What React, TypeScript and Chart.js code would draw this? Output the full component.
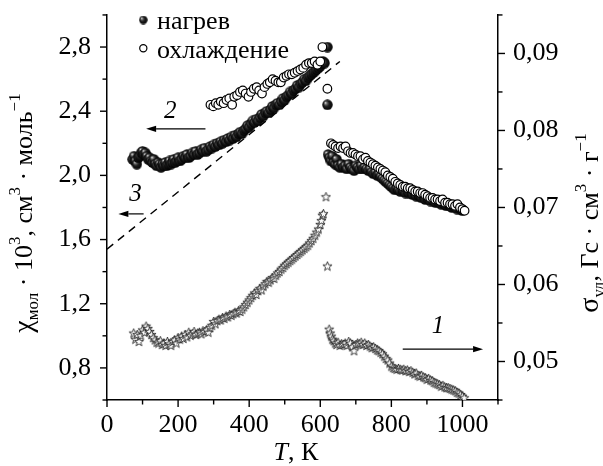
import React, { useEffect, useRef } from 'react';
import { Chart, registerables } from 'chart.js';

Chart.register(...registerables);

// ---------- data ----------
const heatingT = [
  72, 76, 80, 84, 88, 92, 96, 100, 104, 108, 112, 116, 120, 124, 128, 132, 136, 140, 144, 148,
  152, 156, 160, 164, 168, 172, 176, 180, 184, 188, 192, 196, 200, 205, 210, 215, 220, 225, 230, 235,
  240, 245, 250, 255, 260, 265, 270, 275, 280, 285, 290, 295, 300, 305, 310, 315, 320, 325, 330, 335,
  340, 345, 350, 355, 360, 365, 370, 375, 380, 385, 390, 395, 400, 405, 410, 415, 420, 425, 430, 435,
  440, 445, 450, 455, 460, 465, 470, 475, 480, 485, 490, 495, 500, 505, 510, 515, 520, 525, 530, 535,
  540, 545, 550, 555, 560, 565, 570, 575, 580, 585, 590, 595, 600, 604, 608, 612, 620, 620,
  622, 626, 630, 634, 638, 642, 646, 650, 655, 660, 665, 670, 675, 680, 685, 690, 695, 700, 705, 710,
  715, 720, 725, 730, 735, 740, 745, 750, 755, 760, 765, 770, 775, 780, 785, 790, 795, 800, 805, 810,
  815, 820, 825, 830, 835, 840, 845, 850, 855, 860, 865, 870, 875, 880, 885, 890, 895, 900, 905, 910,
  915, 920, 925, 930, 935, 940, 945, 950, 955, 960, 965, 970, 975, 980, 985, 990, 995, 1000,
];
const heatingChi = [
  2.10, 2.12, 2.09, 2.07, 2.11, 2.12, 2.14, 2.15, 2.13, 2.14, 2.12, 2.10, 2.11, 2.09, 2.08, 2.10, 2.07, 2.06, 2.08, 2.07,
  2.05, 2.07, 2.06, 2.08, 2.06, 2.07, 2.09, 2.07, 2.08, 2.10, 2.08, 2.09, 2.11, 2.09, 2.10, 2.12, 2.11, 2.13, 2.11, 2.12,
  2.14, 2.13, 2.15, 2.13, 2.14, 2.16, 2.15, 2.17, 2.15, 2.16, 2.18, 2.17, 2.19, 2.18, 2.20, 2.19, 2.21, 2.20, 2.22, 2.21,
  2.23, 2.22, 2.24, 2.23, 2.25, 2.24, 2.26, 2.27, 2.26, 2.28, 2.29, 2.31, 2.30, 2.32, 2.34, 2.33, 2.35, 2.34, 2.36, 2.38,
  2.37, 2.39, 2.40, 2.39, 2.41, 2.43, 2.42, 2.44, 2.45, 2.44, 2.46, 2.48, 2.47, 2.49, 2.50, 2.52, 2.51, 2.53, 2.54, 2.56,
  2.55, 2.57, 2.58, 2.60, 2.59, 2.61, 2.62, 2.63, 2.64, 2.65, 2.66, 2.67, 2.68, 2.70, 2.71, 2.70, 2.80, 2.44,
  2.13, 2.11, 2.09, 2.12, 2.08, 2.07, 2.10, 2.06, 2.05, 2.07, 2.05, 2.06, 2.04, 2.07, 2.05, 2.04, 2.03, 2.06, 2.05, 2.04,
  2.06, 2.04, 2.05, 2.04, 2.03, 2.04, 2.02, 2.01, 2.02, 2.00, 2.01, 1.99, 1.98, 1.97, 1.96, 1.95, 1.94, 1.93, 1.92, 1.91,
  1.92, 1.91, 1.90, 1.91, 1.90, 1.89, 1.90, 1.89, 1.90, 1.88, 1.89, 1.87, 1.88, 1.87, 1.86, 1.87, 1.85, 1.86, 1.85, 1.84,
  1.85, 1.84, 1.83, 1.84, 1.83, 1.82, 1.83, 1.82, 1.81, 1.82, 1.81, 1.80, 1.81, 1.80, 1.79, 1.80, 1.79, 1.78,
];

const coolingT = [
  291, 299, 306, 313, 320, 328, 336, 344, 352, 358, 366, 374, 382, 390, 398, 405, 413, 421, 428, 436,
  443, 451, 458, 466, 474, 482, 489, 497, 505, 512, 520, 528, 536, 544, 552, 560, 568, 576, 584, 592,
  600, 606, 620,
  630, 636, 643, 650, 657, 664, 671, 678, 685, 692, 699, 706, 713, 720, 727, 734, 741, 748, 755, 762,
  769, 776, 783, 790, 797, 804, 811, 818, 825, 832, 839, 846, 853, 860, 867, 874, 881, 888, 895, 902,
  909, 916, 923, 930, 937, 944, 951, 958, 965, 972, 979, 986, 993, 1000, 1006,
];
const coolingChi = [
  2.44, 2.43, 2.45, 2.44, 2.46, 2.45, 2.47, 2.48, 2.44, 2.49, 2.50, 2.52, 2.53, 2.51, 2.49, 2.52, 2.54, 2.55, 2.53, 2.51,
  2.55, 2.57, 2.58, 2.60, 2.59, 2.58, 2.58, 2.61, 2.62, 2.63, 2.63, 2.64, 2.65, 2.66, 2.67, 2.69, 2.70, 2.70, 2.71, 2.69,
  2.71, 2.80, 2.54,
  2.20, 2.19, 2.18, 2.17, 2.18, 2.17, 2.18, 2.15, 2.14, 2.14, 2.13, 2.12, 2.12, 2.10, 2.11, 2.09, 2.08, 2.07, 2.06, 2.05,
  2.04, 2.03, 2.02, 2.00, 1.99, 1.98, 1.96, 1.95, 1.94, 1.93, 1.93, 1.92, 1.92, 1.91, 1.90, 1.90, 1.89, 1.89, 1.88, 1.87,
  1.86, 1.86, 1.85, 1.85, 1.84, 1.85, 1.83, 1.83, 1.82, 1.82, 1.81, 1.82, 1.80, 1.79, 1.78,
];

const sigmaT = [
  75, 80, 85, 90, 95, 100, 105, 110, 115, 120, 125, 130, 135, 140, 145, 150, 155, 160, 165, 170,
  175, 180, 185, 190, 195, 200, 205, 210, 215, 220, 225, 230, 235, 240, 245, 250, 255, 260, 265, 270,
  275, 280, 285, 290, 295, 300, 305, 310, 315, 320, 325, 330, 335, 340, 345, 350, 355, 360, 365, 370,
  375, 380, 385, 390, 395, 400, 405, 410, 415, 420, 425, 430, 435, 440, 445, 450, 455, 460, 465, 470,
  475, 480, 485, 490, 495, 500, 505, 510, 515, 520, 525, 530, 535, 540, 545, 550, 555, 560, 565, 570,
  575, 580, 585, 590, 595, 600, 603, 606, 609, 616, 620,
  625, 628, 631, 634, 638, 642, 646, 650, 655, 660, 665, 670, 675, 680, 685, 690, 695, 700, 705, 710,
  715, 720, 725, 730, 735, 740, 745, 750, 755, 760, 765, 770, 775, 780, 785, 790, 795, 800, 805, 810,
  815, 820, 825, 830, 835, 840, 845, 850, 855, 860, 865, 870, 875, 880, 885, 890, 895, 900, 905, 910,
  915, 920, 925, 930, 935, 940, 945, 950, 955, 960, 965, 970, 975, 980, 985, 990, 995, 1000, 1005,
];
const sigmaVal = [
  0.0537, 0.0529, 0.0535, 0.0526, 0.0534, 0.0541, 0.0538, 0.0546, 0.0543, 0.0539, 0.0535, 0.0531, 0.0528, 0.0525, 0.0524, 0.0527, 0.0522, 0.0524, 0.0521, 0.0526,
  0.0523, 0.0521, 0.0526, 0.0528, 0.0524, 0.0531, 0.0529, 0.0533, 0.0530, 0.0535, 0.0532, 0.0538, 0.0534, 0.0536, 0.0539, 0.0535, 0.0537, 0.0538, 0.0536, 0.0540,
  0.0539, 0.0541, 0.0538, 0.0544, 0.0547, 0.0552, 0.0549, 0.0553, 0.0555, 0.0554, 0.0557, 0.0556, 0.0559, 0.0558, 0.0561, 0.0560, 0.0562, 0.0564, 0.0563, 0.0566,
  0.0565, 0.0568, 0.0571, 0.0574, 0.0577, 0.0580, 0.0583, 0.0586, 0.0589, 0.0587, 0.0592, 0.0595, 0.0593, 0.0598, 0.0601, 0.0604, 0.0603, 0.0606, 0.0609, 0.0608,
  0.0612, 0.0615, 0.0617, 0.0620, 0.0622, 0.0625, 0.0627, 0.0629, 0.0631, 0.0633, 0.0635, 0.0637, 0.0639, 0.0641, 0.0643, 0.0645, 0.0647, 0.0649, 0.0651, 0.0654,
  0.0657, 0.0660, 0.0664, 0.0668, 0.0672, 0.0678, 0.0683, 0.0690, 0.0692, 0.0714, 0.0624,
  0.0542, 0.0537, 0.0533, 0.0529, 0.0527, 0.0524, 0.0522, 0.0525, 0.0521, 0.0523, 0.0522, 0.0524, 0.0521, 0.0526, 0.0524, 0.0519, 0.0514, 0.0522, 0.0524, 0.0523,
  0.0525, 0.0522, 0.0524, 0.0521, 0.0522, 0.0520, 0.0518, 0.0519, 0.0517, 0.0515, 0.0514, 0.0512, 0.0510, 0.0507, 0.0504, 0.0502, 0.0498, 0.0494, 0.0492, 0.0491,
  0.0490, 0.0491, 0.0490, 0.0489, 0.0490, 0.0488, 0.0489, 0.0487, 0.0488, 0.0486, 0.0484, 0.0485, 0.0482, 0.0481, 0.0482, 0.0480, 0.0479, 0.0477, 0.0478, 0.0476,
  0.0475, 0.0473, 0.0472, 0.0471, 0.0470, 0.0468, 0.0469, 0.0467, 0.0466, 0.0466, 0.0465, 0.0464, 0.0463, 0.0462, 0.0460, 0.0459, 0.0457, 0.0455, 0.0453,
];

// dashed linear fit (curve 3)
const fitT = [0, 655];
const fitChi = [1.54, 2.71];

const legendLabels = ['нагрев', 'охлаждение'];

// annotation arrows & labels in data units
const arrowDefs = [
  { axis: 'y', x0: 277, x1: 110, v: 2.29, label: '2', lx: 178, lv: 2.40 },
  { axis: 'y', x0: 103, x1: 32, v: 1.76, label: '3', lx: 80, lv: 1.88 },
  { axis: 'y2', x0: 832, x1: 1058, v: 0.0516, label: '1', lx: 931, lv: 0.0546 },
];

const SERIF = '"Liberation Serif"';

// ---------- point images ----------
function makeSphere(d: number): HTMLCanvasElement {
  const c = document.createElement('canvas');
  c.width = d; c.height = d;
  const g = c.getContext('2d')!;
  const r = d / 2;
  const grad = g.createRadialGradient(r - r * 0.4, r - r * 0.4, 0.2, r, r, r);
  grad.addColorStop(0, '#e8e8e8');
  grad.addColorStop(0.22, '#6a6a6a');
  grad.addColorStop(0.5, '#1e1e1e');
  grad.addColorStop(1, '#000000');
  g.fillStyle = grad;
  g.beginPath();
  g.arc(r, r, r - 0.3, 0, Math.PI * 2);
  g.fill();
  return c;
}

function makeStar(d: number): HTMLCanvasElement {
  const c = document.createElement('canvas');
  c.width = d; c.height = d;
  const g = c.getContext('2d')!;
  const cx = d / 2, cy = d / 2 + 0.4;
  const R = d / 2 - 0.7, rr = R * 0.42;
  g.beginPath();
  for (let i = 0; i < 10; i++) {
    const ang = -Math.PI / 2 + (i * Math.PI) / 5;
    const rad = i % 2 === 0 ? R : rr;
    const px = cx + rad * Math.cos(ang), py = cy + rad * Math.sin(ang);
    if (i === 0) g.moveTo(px, py); else g.lineTo(px, py);
  }
  g.closePath();
  g.fillStyle = '#fff';
  g.fill();
  g.strokeStyle = '#111';
  g.lineWidth = 0.8;
  g.stroke();
  return c;
}

type Seg = { t: string; size: number; dy: number; italic?: boolean };

function drawRich(ctx: CanvasRenderingContext2D, x: number, y: number, segs: Seg[], rotate: boolean) {
  ctx.save();
  ctx.translate(x, y);
  if (rotate) ctx.rotate(-Math.PI / 2);
  ctx.textBaseline = 'alphabetic';
  ctx.textAlign = 'left';
  ctx.fillStyle = '#000';
  const widths = segs.map((s) => {
    ctx.font = `${s.italic ? 'italic ' : ''}${s.size}px ${SERIF}`;
    return ctx.measureText(s.t).width;
  });
  const total = widths.reduce((a, b) => a + b, 0);
  let cx = -total / 2;
  segs.forEach((s, i) => {
    ctx.font = `${s.italic ? 'italic ' : ''}${s.size}px ${SERIF}`;
    ctx.fillText(s.t, cx, s.dy);
    cx += widths[i];
  });
  ctx.restore();
}

export default function App() {
  const ref = useRef<HTMLCanvasElement | null>(null);

  useEffect(() => {
    if (!ref.current) return;
    const sphere = makeSphere(11);
    const sphereSmall = makeSphere(9);
    const star = makeStar(11);

    const heatingData = heatingT.map((t, i) => ({ x: t, y: heatingChi[i] }));
    const coolingData = coolingT.map((t, i) => ({ x: t, y: coolingChi[i] }));
    const sigmaData = sigmaT.map((t, i) => ({ x: t, y: sigmaVal[i] }));
    const fitData = fitT.map((t, i) => ({ x: t, y: fitChi[i] }));

    const fmtX = (v: number) => (Math.round(v) % 200 === 0 ? String(Math.round(v)) : '');
    const fmtY = (v: number) => (Math.round(v * 10) % 4 === 0 ? v.toFixed(1).replace('.', ',') : '');
    const fmtY2 = (v: number) => (Math.round(v * 1000) % 10 === 0 ? v.toFixed(2).replace('.', ',') : '');

    const decorPlugin = {
      id: 'decor',
      afterDraw(chart: any) {
        const ctx: CanvasRenderingContext2D = chart.ctx;
        const area = chart.chartArea;
        const sx = chart.scales.x, sy = chart.scales.y, sy2 = chart.scales.y2;
        ctx.save();
        ctx.strokeStyle = '#000';
        ctx.lineWidth = 1.4;
        sx.ticks.forEach((t: any) => {
          const p = sx.getPixelForValue(t.value);
          const len = fmtX(t.value) ? 7 : 4.5;
          ctx.beginPath(); ctx.moveTo(p, area.bottom); ctx.lineTo(p, area.bottom + len); ctx.stroke();
        });
        sy.ticks.forEach((t: any) => {
          const p = sy.getPixelForValue(t.value);
          const len = fmtY(t.value) ? 7 : 4.5;
          ctx.beginPath(); ctx.moveTo(area.left, p); ctx.lineTo(area.left - len, p); ctx.stroke();
        });
        sy2.ticks.forEach((t: any) => {
          const p = sy2.getPixelForValue(t.value);
          const len = fmtY2(t.value) ? 7 : 4.5;
          ctx.beginPath(); ctx.moveTo(area.right, p); ctx.lineTo(area.right + len, p); ctx.stroke();
        });

        arrowDefs.forEach((a) => {
          const sc = a.axis === 'y2' ? sy2 : sy;
          const x0 = sx.getPixelForValue(a.x0), x1 = sx.getPixelForValue(a.x1);
          const py = sc.getPixelForValue(a.v);
          const dir = Math.sign(x1 - x0);
          const head = 10;
          ctx.lineWidth = 1.2;
          ctx.beginPath(); ctx.moveTo(x0, py); ctx.lineTo(x1 - dir * head, py); ctx.stroke();
          ctx.fillStyle = '#000';
          ctx.beginPath();
          ctx.moveTo(x1, py);
          ctx.lineTo(x1 - dir * head, py - 3.2);
          ctx.lineTo(x1 - dir * head, py + 3.2);
          ctx.closePath(); ctx.fill();
          ctx.font = `italic 25px ${SERIF}`;
          ctx.textAlign = 'center';
          ctx.textBaseline = 'middle';
          ctx.fillText(a.label, sx.getPixelForValue(a.lx), sc.getPixelForValue(a.lv));
        });

        // legend
        ctx.drawImage(sphereSmall, 143.3 - 4.5, 20 - 4.5);
        ctx.beginPath();
        ctx.arc(143.3, 48.3, 3.6, 0, Math.PI * 2);
        ctx.fillStyle = '#fff'; ctx.fill();
        ctx.lineWidth = 1.2; ctx.strokeStyle = '#000'; ctx.stroke();
        ctx.fillStyle = '#000';
        ctx.font = `26px ${SERIF}`;
        ctx.textAlign = 'left';
        ctx.textBaseline = 'alphabetic';
        ctx.fillText(legendLabels[0], 157, 29);
        ctx.fillText(legendLabels[1], 157, 58);

        const F = 26, S = 17;
        drawRich(ctx, 32, 213, [
          { t: 'χ', size: F + 2, dy: 0 },
          { t: 'мол', size: S, dy: 6 },
          { t: ' · 10', size: F, dy: 0 },
          { t: '3', size: S, dy: -12 },
          { t: ', см', size: F, dy: 0 },
          { t: '3', size: S, dy: -12 },
          { t: ' · моль', size: F, dy: 0 },
          { t: '−1', size: S, dy: -12 },
        ], true);
        drawRich(ctx, 598, 223, [
          { t: 'σ', size: F + 2, dy: 0 },
          { t: 'уд', size: S, dy: 6 },
          { t: ', Гс · см', size: F, dy: 0 },
          { t: '3', size: S, dy: -12 },
          { t: ' · г', size: F, dy: 0 },
          { t: '−1', size: S, dy: -12 },
        ], true);
        drawRich(ctx, 296, 460, [
          { t: 'T', size: F, dy: 0, italic: true },
          { t: ', К', size: F, dy: 0 },
        ], false);
        ctx.restore();
      },
    };

    const tickFont = { family: SERIF, size: 26 };
    const borderOpts = { display: true, color: '#000', width: 1.5 };
    const gridX = { display: true, drawOnChartArea: false, drawTicks: true, tickLength: 7, tickColor: 'rgba(0,0,0,0)' };
    const gridY = { display: true, drawOnChartArea: false, drawTicks: true, tickLength: 16, tickColor: 'rgba(0,0,0,0)' };
    const gridY2 = { display: true, drawOnChartArea: false, drawTicks: true, tickLength: 15, tickColor: 'rgba(0,0,0,0)' };

    const chart = new Chart(ref.current, {
      type: 'scatter',
      data: {
        datasets: [
          {
            label: legendLabels[1],
            data: coolingData,
            yAxisID: 'y',
            pointStyle: 'circle',
            pointRadius: 4.3,
            pointBackgroundColor: '#fff',
            pointBorderColor: '#000',
            pointBorderWidth: 1.2,
            order: 0,
          },
          {
            label: legendLabels[0],
            data: heatingData,
            yAxisID: 'y',
            pointStyle: sphere,
            pointRadius: 5,
            order: 1,
          },
          {
            label: 'σ',
            data: sigmaData,
            yAxisID: 'y2',
            pointStyle: star,
            pointRadius: 5,
            order: 2,
          },
          {
            label: 'fit',
            data: fitData,
            yAxisID: 'y',
            showLine: true,
            pointRadius: 0,
            borderColor: '#000',
            borderWidth: 1.4,
            borderDash: [8, 6],
            order: 3,
          },
        ] as any,
      },
      options: {
        responsive: false,
        animation: false,
        events: [],
        font: { family: SERIF },
        layout: { padding: { top: 0, left: 0, right: 0, bottom: 0 } },
        plugins: { legend: { display: false }, tooltip: { enabled: false }, title: { display: false } },
        scales: {
          x: {
            type: 'linear',
            min: 0,
            max: 1100,
            afterFit: (s: any) => { s.height = 66; },
            ticks: { stepSize: 100, autoSkip: false, maxRotation: 0, color: '#000', font: tickFont, padding: 3, callback: (v: any) => fmtX(Number(v)) },
            grid: gridX,
            border: borderOpts,
          },
          y: {
            type: 'linear',
            position: 'left',
            min: 0.6,
            max: 3.0,
            afterFit: (s: any) => { s.width = 107; },
            ticks: { stepSize: 0.2, autoSkip: false, color: '#000', font: { ...tickFont, lineHeight: 1.15 }, padding: 0, callback: (v: any) => fmtY(Number(v)) },
            grid: gridY,
            border: borderOpts,
          },
          y2: {
            type: 'linear',
            position: 'right',
            min: 0.045,
            max: 0.095,
            afterFit: (s: any) => { s.width = 105; },
            ticks: { stepSize: 0.005, autoSkip: false, color: '#000', font: { ...tickFont, lineHeight: 1.15 }, padding: 0, callback: (v: any) => fmtY2(Number(v)) },
            grid: gridY2,
            border: borderOpts,
          },
        },
      } as any,
      plugins: [decorPlugin],
    });

    return () => chart.destroy();
  }, []);

  return (
    <div style={{ position: 'fixed', left: 0, top: 0, width: 603, height: 466, background: '#fff' }}>
      <canvas ref={ref} width={603} height={466} style={{ position: 'absolute', left: 0, top: 0, width: 603, height: 466, display: 'block' }} />
    </div>
  );
}
